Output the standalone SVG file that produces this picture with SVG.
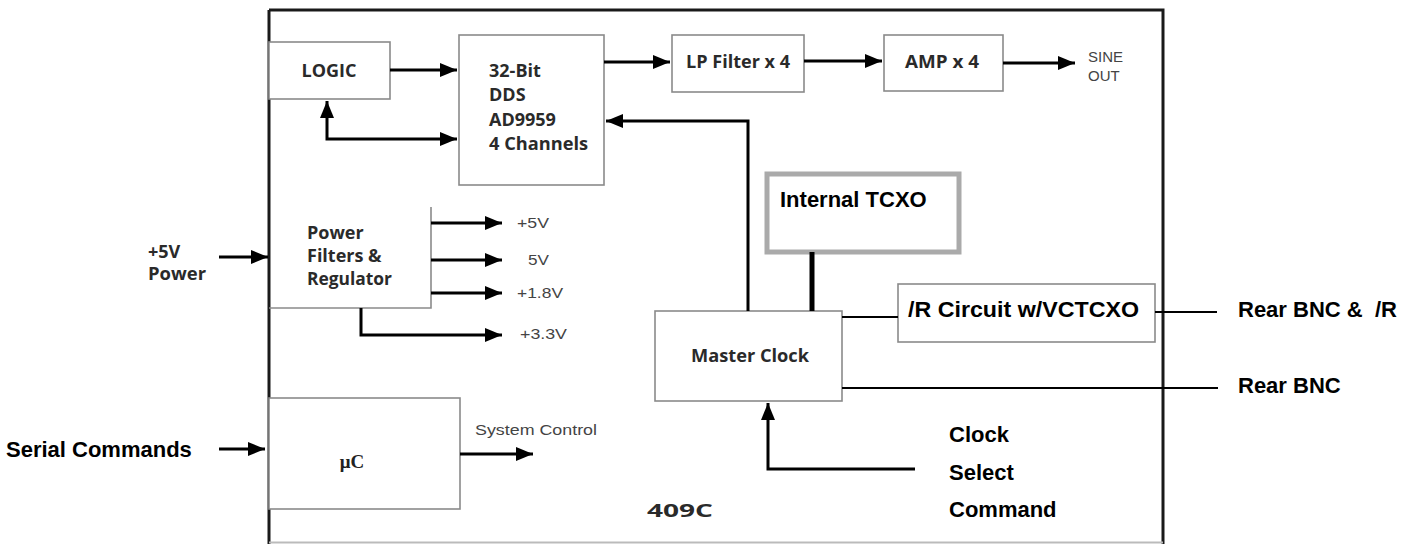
<svg xmlns="http://www.w3.org/2000/svg" width="1419" height="544" viewBox="0 0 1419 544">
<style>
.frame{fill:none;stroke:#1a1a1a;stroke-width:3}
.box{fill:#fff;stroke:#8a8a8a;stroke-width:1.6}
.wire{fill:none;stroke:#000;stroke-width:3}
.thin{fill:none;stroke:#000;stroke-width:2}
.t{font-family:"Open Sans","Liberation Sans",sans-serif;font-weight:700;fill:#2a2a2a;font-size:18px}
.c{font-family:"Liberation Sans",Arial,sans-serif;font-weight:700;fill:#000;font-size:22px;white-space:pre}
.s{font-family:"Liberation Sans",Arial,sans-serif;fill:#444;font-size:15px}
.mu{font-family:"Liberation Serif","Times New Roman",serif;font-weight:700;fill:#222;font-size:19px}
</style>
<defs>
<marker id="ah" markerUnits="userSpaceOnUse" markerWidth="17" markerHeight="14" refX="17" refY="7" orient="auto-start-reverse"><path d="M0,0 L17,7 L0,14 z" fill="#000"/></marker>
</defs>
<rect width="1419" height="544" fill="#fff"/>
<g id="frame">
<path class="frame" d="M269,10 V544 M269,10 H1163 V544"/>
<path d="M269,542.5 H1163" stroke="#bbb" stroke-width="2" fill="none"/>
</g>
<g id="logic"><rect class="box" x="269" y="42" width="121" height="57"/><text class="t" x="329" y="77" text-anchor="middle">LOGIC</text></g>
<g id="dds"><rect class="box" x="459" y="35" width="145" height="150"/>
<text class="t" x="489" y="77">32-Bit</text><text class="t" x="489" y="101">DDS</text><text class="t" x="489" y="126">AD9959</text><text class="t" x="489" y="150" textLength="99" lengthAdjust="spacingAndGlyphs">4 Channels</text></g>
<g id="lpf"><rect class="box" x="672" y="35" width="132" height="57"/><text class="t" x="738" y="68" text-anchor="middle" textLength="104" lengthAdjust="spacingAndGlyphs">LP Filter x 4</text></g>
<g id="amp"><rect class="box" x="884" y="35" width="119" height="56"/><text class="t" x="942" y="68" text-anchor="middle" textLength="74" lengthAdjust="spacingAndGlyphs">AMP x 4</text></g>
<g id="sine"><text class="s" x="1088" y="62" font-size="16">SINE</text><text class="s" x="1088" y="81" font-size="16">OUT</text></g>
<g id="power"><path d="M431,207 V308 H269" fill="none" stroke="#8a8a8a" stroke-width="1.6"/>
<text class="t" x="307" y="239">Power</text><text class="t" x="307" y="262">Filters &amp;</text><text class="t" x="307" y="285" textLength="85" lengthAdjust="spacingAndGlyphs">Regulator</text></g>
<g id="pwrin"><text class="t" x="148" y="258">+5V</text><text class="t" x="148" y="280" textLength="58" lengthAdjust="spacingAndGlyphs">Power</text></g>
<g id="rails"><text class="s" x="517" y="228" textLength="32" lengthAdjust="spacingAndGlyphs">+5V</text><text class="s" x="528" y="265" textLength="21" lengthAdjust="spacingAndGlyphs">5V</text><text class="s" x="517" y="298" textLength="46" lengthAdjust="spacingAndGlyphs">+1.8V</text><text class="s" x="520" y="339" textLength="47" lengthAdjust="spacingAndGlyphs">+3.3V</text></g>
<g id="tcxo"><rect x="767" y="174" width="192" height="78" fill="#fff" stroke="#aaa" stroke-width="5"/><text class="c" x="780" y="207">Internal TCXO</text></g>
<g id="mclk"><rect class="box" x="655" y="311" width="187" height="90"/><text class="t" x="750" y="362" text-anchor="middle" textLength="118" lengthAdjust="spacingAndGlyphs">Master Clock</text></g>
<g id="rcirc"><rect class="box" x="898" y="284" width="257" height="58"/><text class="c" x="908" y="317" textLength="231" lengthAdjust="spacingAndGlyphs">/R Circuit w/VCTCXO</text></g>
<g id="rear1"><text class="c" x="1238" y="317">Rear BNC &amp;  /R</text></g>
<g id="rear2"><text class="c" x="1238" y="393">Rear BNC</text></g>
<g id="clksel"><text class="c" x="949" y="442">Clock</text><text class="c" x="949" y="480">Select</text><text class="c" x="949" y="517">Command</text></g>
<g id="model"><text class="t" x="647" y="517" font-size="21" textLength="66" lengthAdjust="spacingAndGlyphs" fill="#333">409C</text></g>
<g id="uc"><rect class="box" x="269" y="398" width="191" height="111"/><text class="mu" x="352" y="468" text-anchor="middle">μC</text></g>
<g id="serial"><text class="c" x="6" y="457">Serial Commands</text></g>
<g id="sysctl"><text class="s" x="475" y="435" font-size="17" textLength="122" lengthAdjust="spacingAndGlyphs">System Control</text></g>
<g id="connectors">
<path class="wire" d="M390,70 H457" marker-end="url(#ah)"/>
<path class="wire" d="M327,101 V139 H457" marker-start="url(#ah)" marker-end="url(#ah)"/>
<path class="wire" d="M604,62 H670" marker-end="url(#ah)"/>
<path class="wire" d="M804,61 H882" marker-end="url(#ah)"/>
<path class="wire" d="M1003,63 H1075" marker-end="url(#ah)"/>
<path class="wire" d="M748,311 V121 H606" marker-end="url(#ah)"/>
<path class="wire" d="M219,257 H268" marker-end="url(#ah)"/>
<path class="wire" d="M431,223 H502" marker-end="url(#ah)"/>
<path class="wire" d="M431,260 H502" marker-end="url(#ah)"/>
<path class="wire" d="M431,293 H502" marker-end="url(#ah)"/>
<path class="wire" d="M361,308 V335 H502" marker-end="url(#ah)"/>
<path d="M812,252 V311" stroke="#000" stroke-width="5" fill="none"/>
<path class="thin" d="M842,317 H898"/>
<path class="thin" d="M1155,312 H1217"/>
<path class="thin" d="M842,388 H1218"/>
<path class="wire" d="M915,469 H768 V403" marker-end="url(#ah)"/>
<path class="wire" d="M219,449 H265" marker-end="url(#ah)"/>
<path class="wire" d="M460,454 H533" marker-end="url(#ah)"/>
</g>
</svg>
